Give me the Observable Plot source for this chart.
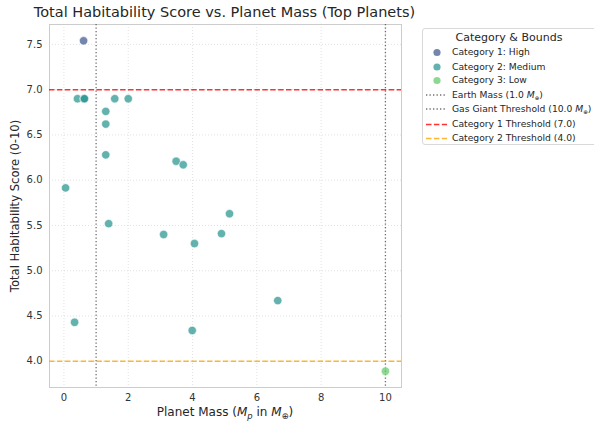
<!DOCTYPE html>
<html>
<head>
<meta charset="utf-8">
<script src="https://cdn.jsdelivr.net/npm/d3@7"></script>
<script src="https://cdn.jsdelivr.net/npm/@observablehq/plot@0.6"></script>
<style>
  body { margin: 0; background: #fff; font-family: "DejaVu Sans", sans-serif; color: #262626; }
  #wrap { position: relative; width: 594px; height: 425px; overflow: hidden; }
  #title { position: absolute; left: 0; width: 449px; top: 4px; text-align: center; font-size: 14.5px; white-space: nowrap; }
  #chart { position: absolute; left: 0; top: 23px; }
  .lab { position: absolute; white-space: nowrap; font-size: 12px; }
  #xlab { left: 49px; width: 352px; top: 405px; text-align: center; }
  #ylab { left: 15px; top: 206px; font-size: 11.6px; transform: translate(-50%, -50%) rotate(-90deg); }
  #legend { position: absolute; left: 422px; top: 28px; width: 180px; height: 117px; border: 1px solid #d9d9d9; border-radius: 3px; background: #fff; box-sizing: border-box; }
  #legend .lt { position: absolute; left: 0; width: 172px; top: 2px; text-align: center; font-size: 11px; }
  #legend .row { position: absolute; left: 29px; font-size: 9.2px; white-space: nowrap; line-height: 12px; }
  #legend svg { position: absolute; left: 0; top: 0; }
  sub { font-size: 0.7em; vertical-align: -0.3em; line-height: 0; }
  #legend sub { font-size: 0.6em; }
</style>
</head>
<body>
<div id="wrap">
  <div id="title">Total Habitability Score vs. Planet Mass (Top Planets)</div>
  <div id="chart"></div>
  <div id="xlab" class="lab">Planet Mass (<i>M</i><sub><i>p</i></sub> in <i>M</i><sub>⊕</sub>)</div>
  <div id="ylab" class="lab">Total Habitability Score (0-10)</div>
  <div id="legend"></div>
</div>
<script>
const mass = [0.61, 0.42, 0.62, 0.64, 1.58, 2.00, 1.30, 1.30, 1.30, 0.05, 3.49, 3.71, 1.39, 5.15, 3.10, 4.90, 4.06, 6.65, 0.33, 3.99, 10.0];
const score = [7.54, 6.90, 6.90, 6.90, 6.90, 6.90, 6.76, 6.62, 6.28, 5.915, 6.21, 6.17, 5.52, 5.63, 5.40, 5.41, 5.30, 4.67, 4.43, 4.34, 3.89];
const category = ["Category 1: High", "Category 2: Medium", "Category 2: Medium", "Category 2: Medium", "Category 2: Medium", "Category 2: Medium", "Category 2: Medium", "Category 2: Medium", "Category 2: Medium", "Category 2: Medium", "Category 2: Medium", "Category 2: Medium", "Category 2: Medium", "Category 2: Medium", "Category 2: Medium", "Category 2: Medium", "Category 2: Medium", "Category 2: Medium", "Category 2: Medium", "Category 2: Medium", "Category 3: Low"];
const categories = ["Category 1: High", "Category 2: Medium", "Category 3: Low"];
const catColors = ["#3b528b", "#21918c", "#5ec962"];
const xTicks = [0, 2, 4, 6, 8, 10];
const yTicks = [4.0, 4.5, 5.0, 5.5, 6.0, 6.5, 7.0, 7.5];
const earthMass = 1.0, gasGiant = 10.0, cat1Threshold = 7.0, cat2Threshold = 4.0;

const data = mass.map((m, i) => ({mass: m, score: score[i], category: category[i]}));

const plot = Plot.plot({
  width: 594, height: 402,
  marginLeft: 49, marginRight: 193, marginTop: 1, marginBottom: 38,
  style: {fontFamily: "DejaVu Sans, sans-serif", fontSize: "10px", color: "#262626", background: "#fff"},
  x: {domain: [-0.45, 10.5]},
  y: {domain: [3.71, 7.72]},
  color: {domain: categories, range: catColors},
  marks: [
    Plot.gridX(xTicks, {stroke: "#dadada", strokeOpacity: 1, strokeDasharray: "1,2", strokeWidth: 0.8}),
    Plot.gridY(yTicks, {stroke: "#dadada", strokeOpacity: 1, strokeDasharray: "1,2", strokeWidth: 0.8}),
    Plot.frame({stroke: "#cccccc", strokeWidth: 1}),
    Plot.axisX(xTicks, {tickSize: 0, tickPadding: 6, label: null, fontSize: 10, fill: "#333"}),
    Plot.axisY(yTicks, {tickSize: 0, tickPadding: 7, label: null, fontSize: 10, tickFormat: d3.format(".1f"), fill: "#333"}),
    Plot.ruleX([earthMass, gasGiant], {stroke: "#555", strokeWidth: 1.3, strokeDasharray: "1.3,2.2", strokeOpacity: 0.85}),
    Plot.ruleY([cat1Threshold], {stroke: "red", strokeWidth: 1.4, strokeDasharray: "5.5,2.4", strokeOpacity: 0.8}),
    Plot.ruleY([cat2Threshold], {stroke: "orange", strokeWidth: 1.4, strokeDasharray: "5.5,2.4", strokeOpacity: 0.8}),
    Plot.dot(data, {x: "mass", y: "score", fill: "category", r: 4.2, fillOpacity: 0.7, stroke: "white", strokeWidth: 0.6})
  ]
});
document.getElementById("chart").appendChild(plot);

// Legend
const legend = document.getElementById("legend");
const rows = [
  {label: categories[0], kind: "dot", color: catColors[0]},
  {label: categories[1], kind: "dot", color: catColors[1]},
  {label: categories[2], kind: "dot", color: catColors[2]},
  {label: "Earth Mass (1.0 <i>M</i><sub>⊕</sub>)", kind: "dotted", color: "#555"},
  {label: "Gas Giant Threshold (10.0 <i>M</i><sub>⊕</sub>)", kind: "dotted", color: "#555"},
  {label: "Category 1 Threshold (7.0)", kind: "dashed", color: "red"},
  {label: "Category 2 Threshold (4.0)", kind: "dashed", color: "orange"}
];
const rowY = [23.5, 38, 51.5, 66, 80, 95.5, 109.5];
const svgNS = "http://www.w3.org/2000/svg";
const ls = document.createElementNS(svgNS, "svg");
ls.setAttribute("width", 30); ls.setAttribute("height", 117);
legend.appendChild(document.createElement("div")).className = "lt";
legend.querySelector(".lt").textContent = "Category & Bounds";
rows.forEach((r, i) => {
  const cy = rowY[i];
  if (r.kind === "dot") {
    const c = document.createElementNS(svgNS, "circle");
    c.setAttribute("cx", 14); c.setAttribute("cy", cy); c.setAttribute("r", 3.6);
    c.setAttribute("fill", r.color); c.setAttribute("fill-opacity", 0.7);
    ls.appendChild(c);
  } else {
    const l = document.createElementNS(svgNS, "line");
    l.setAttribute("x1", 3); l.setAttribute("x2", 24); l.setAttribute("y1", cy); l.setAttribute("y2", cy);
    l.setAttribute("stroke", r.color); l.setAttribute("stroke-opacity", r.kind === "dotted" ? 0.85 : 0.8);
    l.setAttribute("stroke-width", 1.3);
    l.setAttribute("stroke-dasharray", r.kind === "dotted" ? "1.3,2.2" : "5.5,2.4");
    ls.appendChild(l);
  }
  const d = document.createElement("div");
  d.className = "row";
  d.style.top = (cy - 6.5) + "px";
  d.innerHTML = r.label;
  legend.appendChild(d);
});
legend.appendChild(ls);
</script>
</body>
</html>
